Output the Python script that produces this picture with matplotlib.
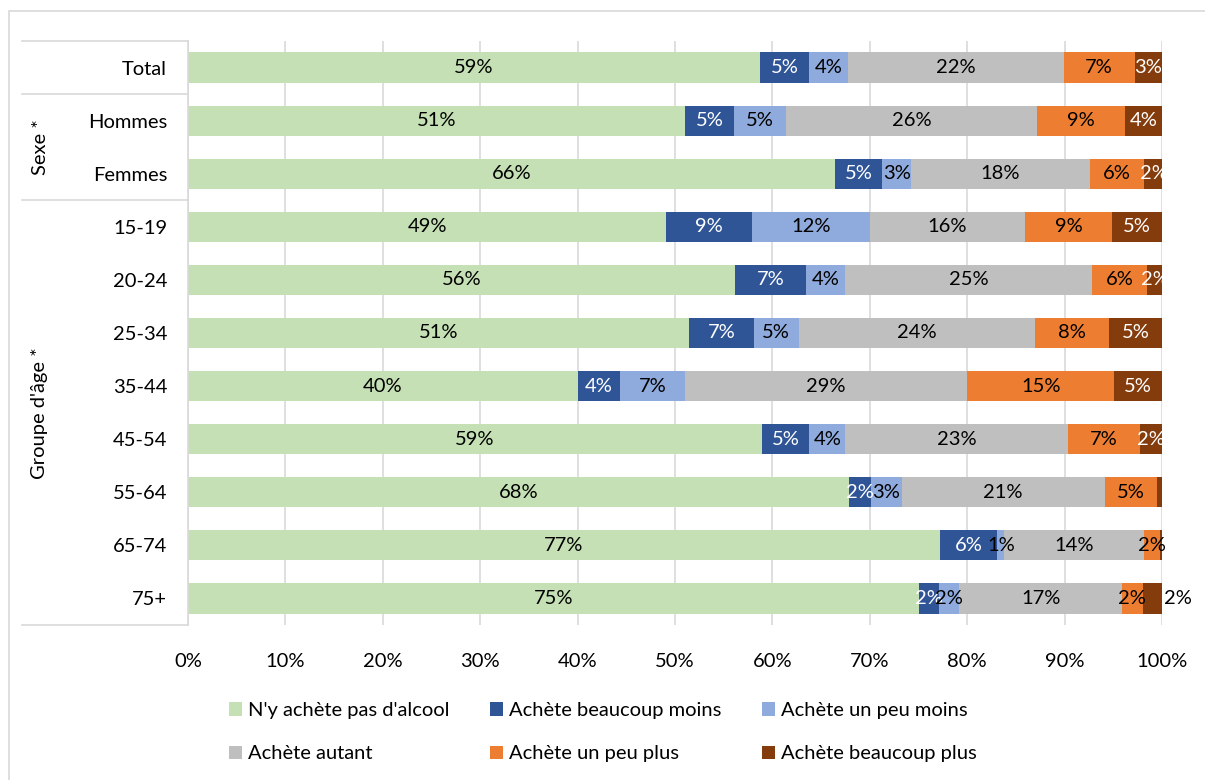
import matplotlib.pyplot as plt
import matplotlib.patches as mpatches
import matplotlib.transforms as mtransforms
import numpy as np

plt.rcParams['font.family'] = ['Lato', 'DejaVu Sans']

categories = ['Total', 'Hommes', 'Femmes', '15-19', '20-24', '25-34',
              '35-44', '45-54', '55-64', '65-74', '75+']

series_names = ["N'y achète pas d'alcool", 'Achète beaucoup moins',
                'Achète un peu moins', 'Achète autant',
                'Achète un peu plus', 'Achète beaucoup plus']

pas_alcool     = [58.7, 51.0, 66.4, 49.1, 56.2, 51.4, 40.0, 58.9, 67.9, 77.2, 75.1]
beaucoup_moins = [5.1, 5.1, 4.9, 8.8, 7.2, 6.7, 4.4, 4.9, 2.2, 5.9, 2.0]
peu_moins      = [4.0, 5.3, 2.9, 12.1, 4.1, 4.6, 6.6, 3.7, 3.2, 0.7, 2.1]
autant         = [22.1, 25.8, 18.4, 15.9, 25.3, 24.3, 29.0, 22.8, 20.8, 14.4, 16.7]
peu_plus       = [7.3, 9.0, 5.6, 9.0, 5.7, 7.6, 15.1, 7.4, 5.4, 1.6, 2.1]
beaucoup_plus  = [2.8, 3.8, 2.0, 5.1, 1.6, 5.4, 4.9, 2.3, 0.5, 0.2, 2.0]

colors = ['#C5E0B4', '#2F5597', '#8FAADC', '#BFBFBF', '#ED7D31', '#843C0C']
label_colors = ['black', 'white', 'black', 'black', 'black', 'white']

all_series = [pas_alcool, beaucoup_moins, peu_moins, autant, peu_plus, beaucoup_plus]

FS = 14.5

fig = plt.figure(figsize=(12.05, 7.8), dpi=100)
ax = fig.add_axes([188 / 1205, 1 - 625 / 780, 974 / 1205, 584 / 780])

y = np.arange(len(categories))
left = np.zeros(len(categories))
handles = []
for k, (vals, name) in enumerate(zip(all_series, series_names)):
    vals = np.array(vals)
    bars = ax.barh(y, vals, left=left, height=0.57, color=colors[k], label=name, zorder=2)
    handles.append(bars)
    for i, v in enumerate(vals):
        if round(v) < 1:
            continue
        txt = f'{round(v)}%'
        xc = left[i] + v / 2
        col = label_colors[k]
        if k == len(all_series) - 1 and categories[i] == '75+':
            # this label sits outside the bar
            xc = left[i] + v + 1.6
            col = 'black'
        ax.text(xc, i, txt, ha='center', va='center', fontsize=FS, color=col, zorder=3)
    left = left + vals

ax.set_xlim(0, 100)
ax.set_ylim(len(categories) - 0.5, -0.5)
ax.set_xticks(np.arange(0, 101, 10))
ax.set_xticklabels([f'{t}%' for t in range(0, 101, 10)], fontsize=FS)
ax.set_yticks(y)
ax.set_yticklabels(categories, fontsize=FS)
ax.tick_params(axis='both', length=0)
ax.tick_params(axis='x', pad=20)
ax.tick_params(axis='y', pad=15)
ax.grid(axis='x', color='#D9D9D9', linewidth=1.2, zorder=0)
for s in ['top', 'right', 'bottom']:
    ax.spines[s].set_visible(False)
ax.spines['left'].set_color('#D9D9D9')
ax.spines['left'].set_linewidth(1.2)

# multi-level category separators
trans = mtransforms.blended_transform_factory(fig.transFigure, ax.transData)
x0 = 22 / 1205
x1 = 188 / 1205
for yy in [-0.5, 0.5, 2.5, 10.5]:
    ax.plot([x0, x1], [yy, yy], transform=trans, color='#D9D9D9', linewidth=1.2, clip_on=False)

ax.text(40 / 1205, 1.5, 'Sexe *', transform=trans, rotation=90, ha='center', va='center', fontsize=FS)
ax.text(40 / 1205, 6.5, "Groupe d'âge *", transform=trans, rotation=90, ha='center', va='center', fontsize=FS)

# outer chart border
fig.patches.append(mpatches.Rectangle((9 / 1205, -0.02), 1.1, 1 - 11 / 780 + 0.02,
                                      transform=fig.transFigure, fill=False,
                                      edgecolor='#D9D9D9', linewidth=1.2))

# legend filled row by row (matplotlib fills columns first)
order = [0, 3, 1, 4, 2, 5]
fig.legend(handles=[handles[i] for i in order], loc='upper left',
           bbox_to_anchor=(211 / 1205, 1 - 684 / 780),
           ncol=3, frameon=False, fontsize=FS, handlelength=0.65, handleheight=0.65,
           handletextpad=0.3, columnspacing=2.0, labelspacing=1.3)

fig.savefig('out.png', dpi=100)
